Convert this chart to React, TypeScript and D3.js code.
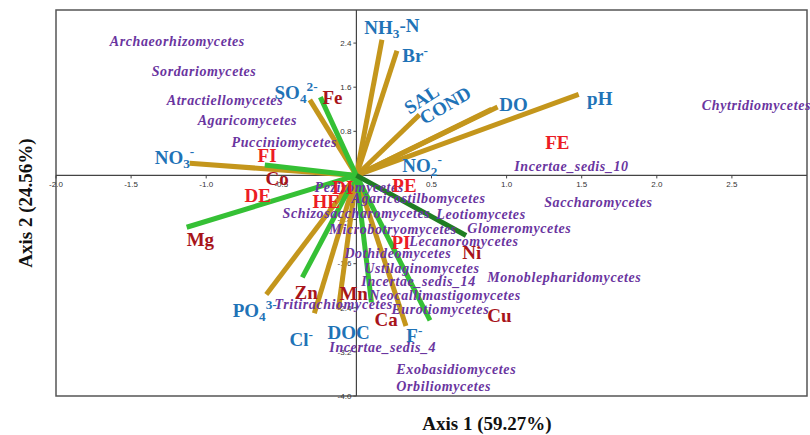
import React from "react";
import * as d3 from "d3";

const W = 810;
const H = 435;

// x / y tick values
const xTicks = [-2.0, -1.5, -1.0, -0.5, 0.5, 1.0, 1.5, 2.0, 2.5];
const yTicks = [2.4, 1.6, 0.8, -0.8, -1.6, -2.4, -3.2, -4.0];

// environmental vectors (ordination scores)
const goldVectors = [
  { name: "NO3", x: -1.11, y: 0.22 },
  { name: "SO4", x: -0.31, y: 1.37 },
  { name: "NH3-N", x: 0.17, y: 2.46 },
  { name: "Br", x: 0.27, y: 2.26 },
  { name: "SAL", x: 0.42, y: 1.1 },
  { name: "COND", x: 0.9, y: 1.2 },
  { name: "DO", x: 0.94, y: 1.24 },
  { name: "pH", x: 1.48, y: 1.47 },
  { name: "PO4", x: -0.6, y: -2.16 },
  { name: "Cl", x: -0.28, y: -2.5 },
  { name: "DOC", x: -0.12, y: -2.43 },
  { name: "F", x: 0.33, y: -2.73 },
];
const greenVectors = [
  { name: "Fe", x: -0.24, y: 1.42 },
  { name: "FI", x: -0.61, y: 0.19 },
  { name: "Mg", x: -1.13, y: -0.94 },
  { name: "Zn", x: -0.36, y: -1.85 },
  { name: "Ca", x: 0.1, y: -2.3 },
  { name: "Cu", x: 0.49, y: -2.63 },
];
const darkGreenVectors = [{ name: "Ni", x: 0.73, y: -1.09 }];

// fungal classes (species scores)
const speciesLabels = [
  { name: "Archaeorhizomycetes", x: -1.642, y: 2.437 },
  { name: "Sordariomycetes", x: -1.363, y: 1.893 },
  { name: "Atractiellomycetes", x: -1.263, y: 1.367 },
  { name: "Agaricomycetes", x: -1.057, y: 1.005 },
  { name: "Pucciniomycetes", x: -0.831, y: 0.606 },
  { name: "Chytridiomycetes", x: 2.3, y: 1.277 },
  { name: "Incertae_sedis_10", x: 1.051, y: 0.17 },
  { name: "Saccharomycetes", x: 1.25, y: -0.482 },
  { name: "Pezizomycetes", x: -0.279, y: -0.21 },
  { name: "Agaricostilbomycetes", x: -0.033, y: -0.41 },
  { name: "Schizosaccharomycetes", x: -0.492, y: -0.682 },
  { name: "Leotiomycetes", x: 0.532, y: -0.7 },
  { name: "Microbotryomycetes", x: -0.18, y: -0.972 },
  { name: "Glomeromycetes", x: 0.738, y: -0.954 },
  { name: "Lecanoromycetes", x: 0.352, y: -1.19 },
  { name: "Dothideomycetes", x: -0.08, y: -1.407 },
  { name: "Ustilaginomycetes", x: 0.053, y: -1.679 },
  { name: "Incertae_sedis_14", x: 0.033, y: -1.915 },
  { name: "Monoblepharidomycetes", x: 0.871, y: -1.843 },
  { name: "Neocallimastigomycetes", x: 0.086, y: -2.169 },
  { name: "Tritirachiomycetes", x: -0.545, y: -2.332 },
  { name: "Eurotiomycetes", x: 0.233, y: -2.423 },
  { name: "Incertae_sedis_4", x: -0.18, y: -3.112 },
  { name: "Exobasidiomycetes", x: 0.266, y: -3.512 },
  { name: "Orbiliomycetes", x: 0.266, y: -3.82 },
];

// blue (water chemistry) label anchors
const blueLabels = [
  { name: "NH3-N", x: 0.053, y: 2.691, rot: 0 },
  { name: "Br-", x: 0.306, y: 2.183, rot: 0 },
  { name: "SAL", x: 0.33, y: 1.2, rot: -33 },
  { name: "COND", x: 0.43, y: 1.02, rot: -30 },
  { name: "DO", x: 0.951, y: 1.295, rot: 0 },
  { name: "pH", x: 1.536, y: 1.404, rot: 0 },
  { name: "SO42-", x: -0.545, y: 1.512, rot: 0 },
  { name: "NO3-", x: -1.343, y: 0.334, rot: 0 },
  { name: "NO2-", x: 0.306, y: 0.189, rot: 0 },
  { name: "PO43-", x: -0.824, y: -2.441, rot: 0 },
  { name: "Cl-", x: -0.445, y: -2.967, rot: 0 },
  { name: "DOC", x: -0.193, y: -2.84, rot: 0 },
  { name: "F-", x: 0.332, y: -2.894, rot: 0 },
];

// red labels: metals (dark) and land-use indices (bright)
const darkRedLabels = [
  { name: "Fe", x: -0.226, y: 1.422 },
  { name: "Co", x: -0.605, y: -0.047 },
  { name: "Mg", x: -1.13, y: -1.16 },
  { name: "Ni", x: 0.705, y: -1.389 },
  { name: "Zn", x: -0.412, y: -2.115 },
  { name: "Mn", x: -0.113, y: -2.133 },
  { name: "Ca", x: 0.12, y: -2.604 },
  { name: "Cu", x: 0.871, y: -2.531 },
];
const brightRedLabels = [
  { name: "FI", x: -0.658, y: 0.37 },
  { name: "DE", x: -0.745, y: -0.356 },
  { name: "HE", x: -0.293, y: -0.464 },
  { name: "DI", x: -0.16, y: -0.21 },
  { name: "PE", x: 0.239, y: -0.175 },
  { name: "PI", x: 0.233, y: -1.208 },
  { name: "FE", x: 1.257, y: 0.606 },
];

const GOLD = "#c4961c";
const GREEN = "#35c035";
const DKGREEN = "#1f7d22";
const BLUE = "#1f73b7";
const PURPLE = "#6a35a0";
const DKRED = "#a8141a";
const RED = "#ec1c24";
const SERIF = "'Liberation Serif', 'Times New Roman', serif";
const SANS = "'Liberation Sans', Arial, sans-serif";

function renderBlue(name: string) {
  const sub = (t: string) => (
    <tspan fontSize="0.7em" dy="0.3em">{t}</tspan>
  );
  const sup = (t: string) => (
    <tspan fontSize="0.7em" dy="-0.5em">{t}</tspan>
  );
  switch (name) {
    case "NH3-N":
      return (<>NH{sub("3")}<tspan dy="-0.3em">-N</tspan></>);
    case "Br-":
      return (<>Br{sup("-")}</>);
    case "SO42-":
      return (<>SO{sub("4")}<tspan fontSize="0.7em" dy="-0.85em">2-</tspan></>);
    case "NO3-":
      return (<>NO{sub("3")}<tspan fontSize="0.7em" dy="-0.85em">-</tspan></>);
    case "NO2-":
      return (<>NO{sub("2")}<tspan fontSize="0.7em" dy="-0.85em">-</tspan></>);
    case "PO43-":
      return (<>PO{sub("4")}<tspan fontSize="0.7em" dy="-0.85em">3-</tspan></>);
    case "Cl-":
      return (<>Cl{sup("-")}</>);
    case "F-":
      return (<>F{sup("-")}</>);
    default:
      return name;
  }
}

export default function App() {
  const x = d3.scaleLinear().domain([-2, 3]).range([56, 807]);
  const y = d3.scaleLinear().domain([-4, 3]).range([396, 10]);
  const x0 = x(0);
  const y0 = y(0);

  const vec = (list: { name: string; x: number; y: number }[], color: string) =>
    list.map((d) => (
      <line
        key={d.name + color}
        x1={x0}
        y1={y0}
        x2={x(d.x)}
        y2={y(d.y)}
        stroke={color}
        strokeWidth={5}
      />
    ));

  return (
    <svg
      width={W}
      height={H}
      style={{ position: "absolute", left: 0, top: 0, background: "#fff" }}
    >
      <rect x={0} y={0} width={W} height={H} fill="#fff" />
      {/* frame */}
      <rect
        x={x(-2)}
        y={y(3)}
        width={x(3) - x(-2)}
        height={y(-4) - y(3)}
        fill="none"
        stroke="#555"
        strokeWidth={1.5}
      />
      {/* axes through origin */}
      <line x1={x(-2)} x2={x(3)} y1={y0} y2={y0} stroke="#444" strokeWidth={1.2} />
      <line x1={x0} x2={x0} y1={y(3)} y2={y(-4)} stroke="#444" strokeWidth={1.2} />
      {xTicks.map((t) => (
        <g key={"xt" + t}>
          <line x1={x(t)} x2={x(t)} y1={y0} y2={y0 + 3} stroke="#444" />
          <text
            x={x(t)}
            y={y0 + 12}
            textAnchor="middle"
            fontFamily={SANS}
            fontSize={8}
            fill="#333"
          >
            {t.toFixed(1)}
          </text>
        </g>
      ))}
      {yTicks.map((t) => (
        <g key={"yt" + t}>
          <line x1={x0 - 3} x2={x0} y1={y(t)} y2={y(t)} stroke="#444" />
          <text
            x={x0 - 5}
            y={y(t)}
            dy="0.35em"
            textAnchor="end"
            fontFamily={SANS}
            fontSize={8}
            fill="#333"
          >
            {t.toFixed(1)}
          </text>
        </g>
      ))}

      {/* vectors */}
      {vec(goldVectors, GOLD)}
      {vec(greenVectors, GREEN)}
      {vec(darkGreenVectors, DKGREEN)}

      {/* species labels */}
      {speciesLabels.map((d) => (
        <text
          key={d.name}
          x={x(d.x)}
          y={y(d.y)}
          dy="0.35em"
          fontFamily={SERIF}
          fontStyle="italic"
          fontWeight="bold"
          fontSize={14}
          letterSpacing={0.6}
          fill={PURPLE}
        >
          {d.name}
        </text>
      ))}

      {/* blue labels */}
      {blueLabels.map((d) => (
        <text
          key={d.name}
          x={x(d.x)}
          y={y(d.y)}
          dy="0.35em"
          fontFamily={SERIF}
          fontWeight="bold"
          fontSize={19}
          fill={BLUE}
          transform={d.rot ? `rotate(${d.rot},${x(d.x)},${y(d.y)})` : undefined}
        >
          {renderBlue(d.name)}
        </text>
      ))}

      {/* red labels */}
      {darkRedLabels.map((d) => (
        <text
          key={d.name}
          x={x(d.x)}
          y={y(d.y)}
          dy="0.35em"
          fontFamily={SERIF}
          fontWeight="bold"
          fontSize={19}
          fill={DKRED}
        >
          {d.name}
        </text>
      ))}
      {brightRedLabels.map((d) => (
        <text
          key={d.name}
          x={x(d.x)}
          y={y(d.y)}
          dy="0.35em"
          fontFamily={SERIF}
          fontWeight="bold"
          fontSize={19}
          fill={RED}
        >
          {d.name}
        </text>
      ))}

      {/* axis titles */}
      <text
        x={487}
        y={423}
        dy="0.35em"
        textAnchor="middle"
        fontFamily={SERIF}
        fontWeight="bold"
        fontSize={19}
        fill="#111"
      >
        Axis 1 (59.27%)
      </text>
      <text
        transform="translate(25,203) rotate(-90)"
        textAnchor="middle"
        dy="0.35em"
        fontFamily={SERIF}
        fontWeight="bold"
        fontSize={19}
        fill="#111"
      >
        Axis 2 (24.56%)
      </text>
    </svg>
  );
}
